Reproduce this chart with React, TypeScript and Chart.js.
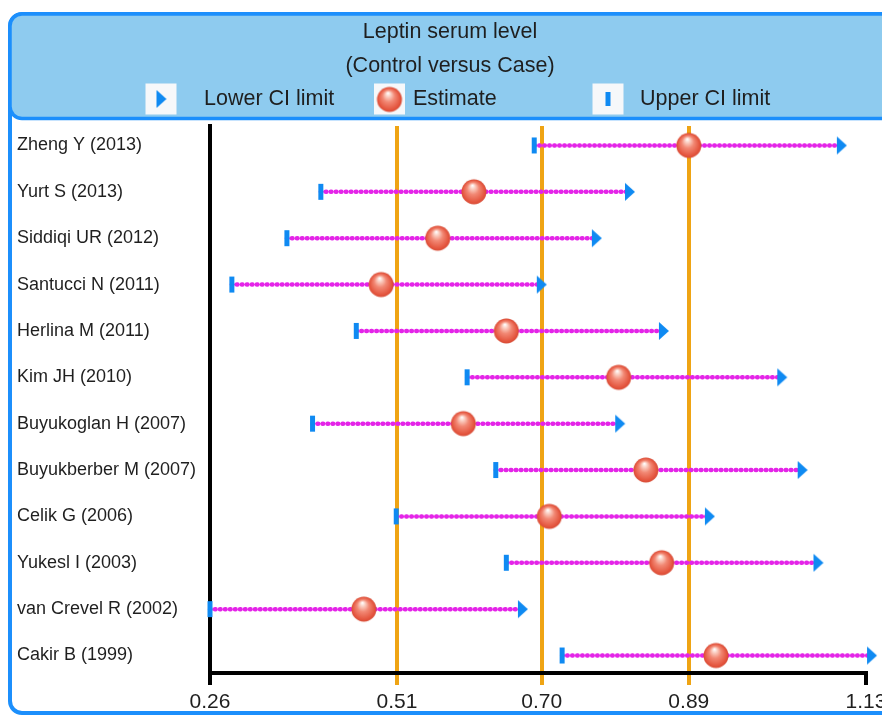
import React, { useEffect, useRef } from 'react';
import { Chart, registerables } from 'chart.js';

Chart.register(...registerables);

// ---------- data ----------
const studies = [
  'Zheng Y (2013)',
  'Yurt S (2013)',
  'Siddiqi UR (2012)',
  'Santucci N (2011)',
  'Herlina M (2011)',
  'Kim JH (2010)',
  'Buyukoglan H (2007)',
  'Buyukberber M (2007)',
  'Celik G (2006)',
  'Yukesl I (2003)',
  'van Crevel R (2002)',
  'Cakir B (1999)',
];
// left bar marker (legend: "Upper CI limit")
const upperCI = [0.690, 0.407, 0.362, 0.289, 0.454, 0.601, 0.396, 0.639, 0.507, 0.653, 0.260, 0.727];
// sphere marker
const estimate = [0.895, 0.610, 0.562, 0.487, 0.653, 0.802, 0.596, 0.838, 0.710, 0.859, 0.464, 0.931];
// right triangle marker (legend: "Lower CI limit")
const lowerCI = [1.098, 0.817, 0.773, 0.700, 0.862, 1.019, 0.804, 1.046, 0.923, 1.067, 0.675, 1.138];

const tickValues = [0.26, 0.508, 0.70, 0.895, 1.13];
const tickLabels = ['0.26', '0.51', '0.70', '0.89', '1.13'];
const titleLines = ['Leptin serum level', '(Control versus Case)'];
const legendLabels = ['Lower CI limit', 'Estimate', 'Upper CI limit'];

// ---------- styles ----------
const FONT = "'Liberation Sans', Arial, Helvetica, sans-serif";
const TEXT = '#1f1f1f';
const BLUE = '#0f8af2';
const FRAME = '#1c8ffc';
const HEADER = '#8ecbef';
const ORANGE = '#efa414';
const MAGENTA = '#e424e8';

function makeTriangle(): HTMLCanvasElement {
  const c = document.createElement('canvas');
  c.width = 12;
  c.height = 20;
  const g = c.getContext('2d')!;
  g.fillStyle = BLUE;
  g.beginPath();
  g.moveTo(1, 1);
  g.lineTo(11, 10);
  g.lineTo(1, 19);
  g.closePath();
  g.fill();
  return c;
}

function makeSphere(): HTMLCanvasElement {
  const c = document.createElement('canvas');
  c.width = 28;
  c.height = 28;
  const g = c.getContext('2d')!;
  const cx = 14, cy = 14, r = 12.5;
  const grad = g.createRadialGradient(cx - 1.5, cy - 6.5, 0.3, cx, cy + 1, r + 1.5);
  grad.addColorStop(0, '#ffffff');
  grad.addColorStop(0.16, '#fbd0c4');
  grad.addColorStop(0.42, '#f28874');
  grad.addColorStop(0.78, '#e4553e');
  grad.addColorStop(1, '#c73f2a');
  g.fillStyle = grad;
  g.beginPath();
  g.arc(cx, cy, r, 0, Math.PI * 2);
  g.fill();
  return c;
}

function roundRectPath(ctx: CanvasRenderingContext2D, x: number, y: number, w: number, h: number, r: number) {
  ctx.beginPath();
  ctx.moveTo(x + r, y);
  ctx.lineTo(x + w - r, y);
  ctx.arcTo(x + w, y, x + w, y + r, r);
  ctx.lineTo(x + w, y + h - r);
  ctx.arcTo(x + w, y + h, x + w - r, y + h, r);
  ctx.lineTo(x + r, y + h);
  ctx.arcTo(x, y + h, x, y + h - r, r);
  ctx.lineTo(x, y + r);
  ctx.arcTo(x, y, x + r, y, r);
  ctx.closePath();
}

export default function App() {
  const ref = useRef<HTMLCanvasElement>(null);

  useEffect(() => {
    const canvas = ref.current;
    if (!canvas) return;
    const tri = makeTriangle();
    const sph = makeSphere();

    const framePlugin = {
      id: 'framePlugin',
      afterLayout(chart: any) {
        const t = chart.titleBlock;
        if (t) {
          t.left += 8.5;
          t.right += 8.5;
        }
      },
      beforeDraw(chart: any) {
        const ctx: CanvasRenderingContext2D = chart.ctx;
        ctx.save();
        // outer body frame
        roundRectPath(ctx, 10, 14, 900, 699, 12);
        ctx.fillStyle = '#ffffff';
        ctx.fill();
        ctx.lineWidth = 4;
        ctx.strokeStyle = FRAME;
        ctx.stroke();
        // header box
        roundRectPath(ctx, 10, 14, 900, 104.5, 12);
        ctx.fillStyle = HEADER;
        ctx.fill();
        ctx.lineWidth = 3.5;
        ctx.strokeStyle = FRAME;
        ctx.stroke();

        // legend
        const cy = 99;
        const iconCenters = [161, 389.5, 608];
        const textStarts = [204, 413, 640];
        ctx.fillStyle = '#f6f8fa';
        iconCenters.forEach((x) => {
          ctx.fillRect(x - 15.5, cy - 15.5, 31, 31);
        });
        ctx.drawImage(tri, iconCenters[0] - tri.width / 2 + 0.5, cy - tri.height / 2);
        ctx.drawImage(sph, iconCenters[1] - sph.width / 2, cy - sph.height / 2 + 0.5);
        ctx.fillStyle = BLUE;
        ctx.fillRect(iconCenters[2] - 2.5, cy - 7, 5, 14);

        ctx.font = `21.5px ${FONT}`;
        ctx.fillStyle = TEXT;
        ctx.textBaseline = 'middle';
        ctx.textAlign = 'left';
        legendLabels.forEach((lab, i) => ctx.fillText(lab, textStarts[i], cy));
        ctx.restore();
      },
    };

    const rangeSets = studies.map((s, i) => ({
      label: s,
      type: 'scatter' as const,
      showLine: true,
      data: [
        { x: upperCI[i], y: i },
        { x: lowerCI[i], y: i },
      ],
      borderColor: MAGENTA,
      borderWidth: 4.5,
      borderDash: [0.6, 4.4],
      borderCapStyle: 'round' as const,
      pointRadius: 0,
      pointHoverRadius: 0,
      clip: false as const,
      order: 3,
    }));

    const chart = new Chart(canvas, {
      type: 'scatter',
      data: {
        datasets: [
          ...rangeSets,
          {
            label: legendLabels[2],
            data: upperCI.map((v, i) => ({ x: v, y: i })),
            pointStyle: 'line',
            rotation: 90,
            pointRadius: 8,
            pointBorderWidth: 5,
            pointBorderColor: BLUE,
            pointBackgroundColor: BLUE,
            clip: false,
            order: 2,
          } as any,
          {
            label: legendLabels[0],
            data: lowerCI.map((v, i) => ({ x: v, y: i })),
            pointStyle: tri,
            pointRadius: 10,
            pointBorderWidth: 0,
            clip: false,
            order: 1,
          } as any,
          {
            label: legendLabels[1],
            data: estimate.map((v, i) => ({ x: v, y: i })),
            pointStyle: sph,
            pointRadius: 13,
            pointBorderWidth: 0,
            clip: false,
            order: 0,
          } as any,
        ],
      },
      options: {
        responsive: false,
        maintainAspectRatio: false,
        animation: false,
        events: [],
        layout: { padding: { top: 0, left: 17, right: 34, bottom: 0 } },
        plugins: {
          legend: { display: false },
          tooltip: { enabled: false },
          title: {
            display: true,
            text: titleLines,
            color: TEXT,
            font: { family: FONT, size: 21.5, weight: 'normal', lineHeight: '34px' } as any,
            padding: { top: 15, bottom: 43 },
          },
        },
        scales: {
          x: {
            type: 'linear',
            min: tickValues[0],
            max: tickValues[tickValues.length - 1],
            afterBuildTicks: (s: any) => {
              s.ticks = tickValues.map((v) => ({ value: v }));
            },
            afterFit: (s: any) => {
              s.height = 42;
            },
            ticks: {
              autoSkip: false,
              maxRotation: 0,
              padding: 5,
              color: TEXT,
              font: { family: FONT, size: 21 },
              callback: (_v: any, idx: number) => tickLabels[idx],
            },
            grid: {
              display: true,
              drawOnChartArea: true,
              lineWidth: 4,
              tickLength: 12,
              tickWidth: 4,
              color: (c: any) =>
                c.index === 0 || c.index === tickValues.length - 1 ? 'rgba(0,0,0,0)' : ORANGE,
              tickColor: (c: any) =>
                c.index === 0 || c.index === tickValues.length - 1 ? '#000000' : ORANGE,
            },
            border: { display: true, color: '#000000', width: 4 },
          },
          y: {
            type: 'linear',
            reverse: true,
            min: -0.42,
            max: studies.length - 1 + 0.377,
            afterBuildTicks: (s: any) => {
              s.ticks = studies.map((_, i) => ({ value: i }));
            },
            afterFit: (s: any) => {
              s.width = 193;
            },
            ticks: {
              autoSkip: false,
              crossAlign: 'far',
              padding: 0,
              color: TEXT,
              font: { family: FONT, size: 18 },
              callback: (v: any) => studies[Math.round(Number(v))],
            },
            grid: { display: false, drawTicks: false },
            border: { display: true, color: '#000000', width: 4 },
          },
        },
      },
      plugins: [framePlugin],
    } as any);

    return () => chart.destroy();
  }, []);

  return (
    <div
      style={{
        position: 'fixed',
        left: 0,
        top: 0,
        width: 882,
        height: 715,
        overflow: 'hidden',
        background: '#ffffff',
      }}
    >
      <canvas ref={ref} width={900} height={715} style={{ display: 'block', width: 900, height: 715 }} />
    </div>
  );
}
